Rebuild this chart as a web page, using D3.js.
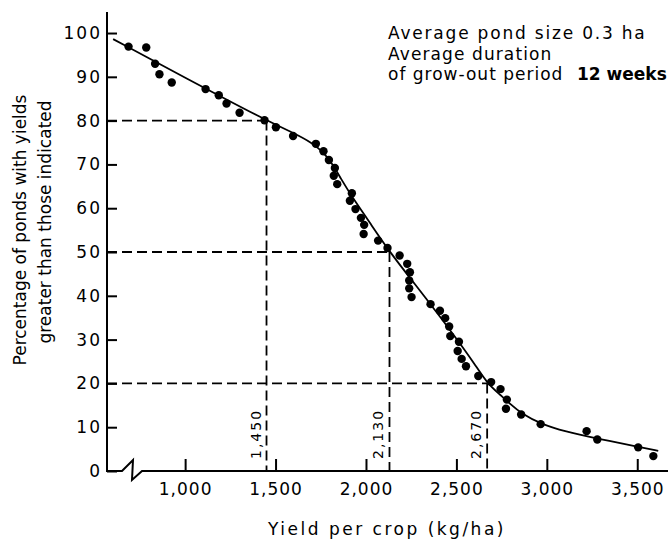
<!DOCTYPE html>
<html>
<head>
<meta charset="utf-8">
<script src="https://cdn.jsdelivr.net/npm/d3@7"></script>
<style>
  html, body { margin: 0; padding: 0; background: #fff; }
  svg { display: block; }
  text { font-family: "DejaVu Sans", sans-serif; fill: #000; }
</style>
</head>
<body>
<svg id="chart" width="668" height="539"></svg>
<script>
// ---- data ----
const pointYield = [687, 785, 834, 858, 926, 1113, 1186, 1229, 1301, 1439, 1502, 1597, 1723, 1765, 1795,
  1828, 1822, 1841, 1922, 1911, 1942, 1972, 1990, 1987, 2067, 2119, 2186, 2228, 2243, 2239,
  2239, 2252, 2357, 2409, 2438, 2460, 2466, 2514, 2507, 2529, 2553, 2621, 2692, 2744, 2779,
  2774, 2858, 2966, 3220, 3279, 3505, 3589];
const pointPct = [96.9, 96.7, 93.0, 90.6, 88.7, 87.2, 85.8, 83.9, 81.8, 80.1, 78.5, 76.5, 74.7, 73.0, 71.0,
  69.2, 67.4, 65.5, 63.4, 61.7, 59.8, 57.8, 56.2, 54.1, 52.6, 50.9, 49.2, 47.3, 45.4, 43.5,
  41.7, 39.7, 38.1, 36.6, 34.9, 33.0, 30.8, 29.5, 27.4, 25.6, 23.9, 21.7, 20.3, 18.7, 16.3,
  14.2, 12.9, 10.7, 9.1, 7.2, 5.4, 3.4];
const curveYield = [602, 1000, 1450, 1600, 1700, 1770, 1820, 1860, 1920, 2020, 2130, 2335, 2510, 2600, 2670,
  2745, 2800, 2860, 2965, 3100, 3280, 3505, 3616];
const curvePct   = [98.6, 89.8, 80, 77.2, 75.0, 72.6, 69.8, 66.8, 62.8, 56.8, 50, 39.3, 29.7, 24.5, 20,
  17.3, 15.2, 13.1, 10.8, 9.0, 7.4, 5.5, 4.6];
const refYield = [1450, 2130, 2670];
const refPct = [80, 50, 20];
const refLabels = ["1,450", "2,130", "2,670"];
const xTicks = [1000, 1500, 2000, 2500, 3000, 3500];
const xTickLabels = ["1,000", "1,500", "2,000", "2,500", "3,000", "3,500"];
const yTicks = [0, 10, 20, 30, 40, 50, 60, 70, 80, 90, 100];
const notes = ["Average pond size 0.3 ha", "Average duration", "of grow-out period"];
const noteWeeks = "12 weeks";

// ---- layout ----
const svg = d3.select("#chart");
const x = d3.scaleLinear().domain([568, 3670]).range([107, 668]);
const y = d3.scaleLinear().domain([0, 104.8]).range([471, 12]);

// axes
const yAxis = d3.axisLeft(y).tickValues(yTicks).tickSizeInner(-10).tickSizeOuter(0).tickPadding(7);
const gy = svg.append("g").attr("transform", `translate(${x.range()[0]},0)`).call(yAxis);
gy.select(".domain").remove();
gy.selectAll(".tick line").attr("stroke", "#000").attr("stroke-width", 2);
gy.selectAll(".tick text").attr("font-size", 17).attr("letter-spacing", 2).attr("dx", 2)
  .style("font-family", "DejaVu Sans");

const xAxis = d3.axisBottom(x).tickValues(xTicks).tickFormat((d, i) => xTickLabels[i])
  .tickSizeInner(-12).tickSizeOuter(0).tickPadding(12);
const gx = svg.append("g").attr("transform", `translate(0,${y(0)})`).call(xAxis);
gx.select(".domain").remove();
gx.selectAll(".tick line").attr("stroke", "#000").attr("stroke-width", 2);
gx.selectAll(".tick text").attr("font-size", 17).attr("letter-spacing", 1)
  .style("font-family", "DejaVu Sans");

// axis lines (with break on x axis)
const x0 = x.range()[0], yb = y(0);
svg.append("path")
  .attr("d", `M${x0},${y.range()[1]}V${yb}H${x0 + 15}L${x0 + 26},${yb - 11}L${x0 + 25},${yb + 9}L${x0 + 35},${yb}H${x.range()[1]}`)
  .attr("fill", "none").attr("stroke", "#000").attr("stroke-width", 2).attr("stroke-linejoin", "miter");

// reference dashed lines
refYield.forEach((v, i) => {
  svg.append("path")
    .attr("d", `M${x0},${y(refPct[i])}H${x(v)}`)
    .attr("stroke", "#000").attr("stroke-width", 1.8).attr("stroke-dasharray", "10,5").attr("fill", "none");
  svg.append("path")
    .attr("d", `M${x(v)},${y(refPct[i])}V${yb}`)
    .attr("stroke", "#000").attr("stroke-width", 1.8).attr("stroke-dasharray", "10,5").attr("fill", "none");
  svg.append("text")
    .attr("transform", `translate(${x(v) - 6},${yb - 12}) rotate(-90)`)
    .attr("font-size", 14).attr("letter-spacing", 2)
    .text(refLabels[i]);
});

// fitted curve
const line = d3.line().x(d => x(d[0])).y(d => y(d[1])).curve(d3.curveBasis);
svg.append("path")
  .datum(curveYield.map((v, i) => [v, curvePct[i]]))
  .attr("d", line).attr("fill", "none").attr("stroke", "#000").attr("stroke-width", 1.8);

// data points
svg.append("g").selectAll("circle")
  .data(pointYield.map((v, i) => [v, pointPct[i]]))
  .join("circle")
  .attr("cx", d => x(d[0])).attr("cy", d => y(d[1])).attr("r", 4.2).attr("fill", "#000");

// axis titles
svg.append("text").attr("x", 387).attr("y", 535).attr("text-anchor", "middle")
  .attr("font-size", 17).attr("letter-spacing", 2.5).text("Yield per crop (kg/ha)");
svg.append("text").attr("transform", "translate(26,230) rotate(-90)").attr("text-anchor", "middle")
  .attr("font-size", 17).attr("letter-spacing", 0).text("Percentage of ponds with yields");
svg.append("text").attr("transform", "translate(51,222) rotate(-90)").attr("text-anchor", "middle")
  .attr("font-size", 17).attr("letter-spacing", 0).text("greater than those indicated");

// annotation
const noteY = [39, 59.5, 79.5];
const noteSpacing = [1.8, 1.1, 1.0];
notes.forEach((t, i) => {
  svg.append("text").attr("x", 388).attr("y", noteY[i]).attr("font-size", 17)
    .attr("letter-spacing", noteSpacing[i]).text(t);
});
svg.append("text").attr("x", 577).attr("y", noteY[2]).attr("font-size", 17).attr("font-weight", "bold")
  .attr("letter-spacing", 0).text(noteWeeks);
</script>
</body>
</html>
